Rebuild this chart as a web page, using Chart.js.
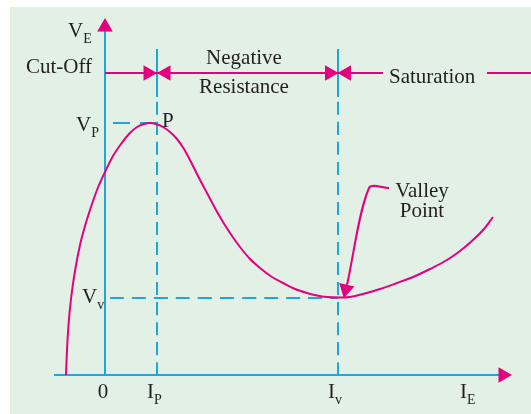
<!DOCTYPE html>
<html><head><meta charset="utf-8">
<script src="https://cdn.jsdelivr.net/npm/chart.js@4/dist/chart.umd.min.js"></script>
<style>html,body{margin:0;padding:0;background:#fff;}canvas{display:block;}</style>
</head><body>
<canvas id="c" width="531" height="414"></canvas>
<script>
// UJT characteristic: emitter current I_E (arbitrary units, 0 = origin) vs emitter voltage V_E
const emitterCurrent = [-3.9,-3.8,-3.65,-3.4,-3.0,-2.5,-2.0,-1.5,-0.8,0.0,0.8,1.6,2.4,3.2,3.9,4.5,5.1,5.8,6.5,7.2,7.9,8.6,9.3,10.2,11.5,12.5,13.5,14.5,15.5,16.7,17.8,19.0,20.2,21.2,22.2,23.5,24.5,26.0,27.5,29.2,30.8,32.5,34.2,35.5,36.8,37.9,38.8];
const emitterVoltage = [0,2.5,5.0,7.6,10.4,13.0,14.9,16.5,18.5,20.3,21.9,23.1,24.1,24.8,25.1,25.2,25.1,24.8,24.3,23.6,22.6,21.3,19.9,18.2,15.8,14.2,12.8,11.6,10.7,9.8,9.2,8.6,8.2,7.95,7.8,7.75,7.8,8.15,8.6,9.2,9.8,10.6,11.5,12.4,13.5,14.6,15.8];
const peakCurrent = 5.2;      // I_P
const valleyCurrent = 23.3;   // I_v
const peakVoltage = 25.2;     // V_P
const valleyVoltage = 7.7;    // V_v
const regionLevel = 30.2;     // level of the region arrows
const regionNames = ['Cut-Off', 'Negative', 'Resistance', 'Saturation'];
const xTickLabels = [['0',''],['I','P'],['I','v'],['I','E']];
const yTickLabels = [['V','E'],['V','P'],['V','v']];
const pointerLabel = ['Valley', 'Point'];

const PINK = '#e4007f', BLUE = '#1ea6e0', INK = '#231f20';
const X_MIN = -10.5, X_MAX = 42.6, Y_MIN = -3.9, Y_MAX = 37.5;
const topOfMarkers = 32.6, solidEnd = 27.8;

const curve = emitterCurrent.map((x, i) => ({x, y: emitterVoltage[i]}));
const line = (pts, color, dash, order) => ({
  data: pts.map(p => ({x: p[0], y: p[1]})), showLine: true, borderColor: color,
  borderWidth: 2, borderDash: dash || [], pointRadius: 0, fill: false, order: order || 5, clip: false
});
const arrows = (pts, rot, r, order) => ({
  data: pts.map(p => ({x: p[0], y: p[1]})), showLine: false, pointStyle: 'triangle',
  pointRadius: r, pointRotation: rot, backgroundColor: pts.map(p => p[2]), borderWidth: 0,
  pointBorderWidth: 0, order: order || 1, clip: false
});

const datasets = [
  Object.assign(line([], PINK, [], 2), {data: curve, cubicInterpolationMode: 'monotone'}),
  // axes
  line([[0,0],[0,34.8]], BLUE),
  line([[-5.1,0],[39.8,0]], BLUE),
  // marker verticals
  line([[peakCurrent, solidEnd],[peakCurrent, topOfMarkers]], BLUE),
  line([[peakCurrent, 0],[peakCurrent, solidEnd]], BLUE, [13,7]),
  line([[valleyCurrent, solidEnd],[valleyCurrent, topOfMarkers]], BLUE),
  line([[valleyCurrent, 0],[valleyCurrent, solidEnd]], BLUE, [13,7]),
  // level dashes
  line([[0.8, peakVoltage],[peakCurrent, peakVoltage]], BLUE, [17,10]),
  line([[0.5, valleyVoltage],[valleyCurrent, valleyVoltage]], BLUE, [14,8]),
  // region arrows line
  line([[0, regionLevel],[27.8, regionLevel]], PINK, [], 3),
  line([[38.2, regionLevel],[X_MAX, regionLevel]], PINK, [], 3),
  // valley pointer
  line([[28.4,18.7],[26.4,18.7],[24.2,9.0]], PINK, [], 3),
  // arrow heads
  arrows([[0,34.8,PINK]], 0, 9),
  arrows([[39.8,0,PINK]], 90, 9),
  arrows([[peakCurrent-0.9,regionLevel,PINK],[valleyCurrent-0.85,regionLevel,PINK]], 90, 9),
  arrows([[peakCurrent+0.9,regionLevel,PINK],[valleyCurrent+0.85,regionLevel,PINK]], 270, 9),
  arrows([[24.08,8.58,PINK]], 193, 9)
];

function drawSym(ctx, parts, px, py, align) {
  ctx.font = '21px "Liberation Serif", "Times New Roman", serif';
  const w1 = ctx.measureText(parts[0]).width;
  ctx.font = '14px "Liberation Serif", "Times New Roman", serif';
  const w2 = parts[1] ? ctx.measureText(parts[1]).width : 0;
  let left = px;
  if (align === 'center') left = px - (w1 + w2) / 2;
  if (align === 'right') left = px - (w1 + w2);
  ctx.textAlign = 'left';
  ctx.font = '21px "Liberation Serif", "Times New Roman", serif';
  ctx.fillText(parts[0], left, py);
  if (parts[1]) {
    ctx.font = '14px "Liberation Serif", "Times New Roman", serif';
    ctx.fillText(parts[1], left + w1, py + 6);
  }
}

const bgPlugin = {
  id: 'bg',
  beforeDraw(chart) {
    const ctx = chart.ctx;
    ctx.save();
    ctx.fillStyle = '#ffffff';
    ctx.fillRect(0, 0, chart.width, chart.height);
    ctx.fillStyle = '#e2f0e5';
    ctx.fillRect(10, 7, chart.width - 10, chart.height - 7);
    ctx.restore();
  }
};

const textPlugin = {
  id: 'texts',
  afterDatasetsDraw(chart) {
    const {ctx} = chart, sx = chart.scales.x, sy = chart.scales.y;
    const X = v => sx.getPixelForValue(v), Y = v => sy.getPixelForValue(v);
    ctx.save();
    ctx.fillStyle = INK;
    ctx.textBaseline = 'alphabetic';
    const tickY = Y(-2.3);
    drawSym(ctx, xTickLabels[0], X(0) - 2, tickY, 'center');
    drawSym(ctx, xTickLabels[1], X(peakCurrent) - 10, tickY, 'left');
    drawSym(ctx, xTickLabels[2], X(valleyCurrent) - 10, tickY, 'left');
    drawSym(ctx, xTickLabels[3], X(35.5), tickY, 'left');
    drawSym(ctx, yTickLabels[0], X(-3.7), Y(33.8), 'left');
    drawSym(ctx, yTickLabels[1], X(-2.9), Y(peakVoltage) + 8, 'left');
    drawSym(ctx, yTickLabels[2], X(-2.3), Y(valleyVoltage) + 5, 'left');
    drawSym(ctx, ['P',''], X(peakCurrent) + 5, Y(peakVoltage) + 4, 'left');
    drawSym(ctx, [regionNames[0],''], X(-7.9), Y(regionLevel), 'left');
    drawSym(ctx, [regionNames[1],''], X(13.9), Y(31.1), 'center');
    drawSym(ctx, [regionNames[2],''], X(13.9), Y(28.2), 'center');
    drawSym(ctx, [regionNames[3],''], X(28.4), Y(29.2), 'left');
    drawSym(ctx, [pointerLabel[0],''], X(31.7), Y(17.8), 'center');
    drawSym(ctx, [pointerLabel[1],''], X(31.7), Y(15.8), 'center');
    ctx.restore();
  }
};

new Chart(document.getElementById('c'), {
  type: 'scatter',
  data: {datasets},
  options: {
    responsive: false, animation: false, devicePixelRatio: 1,
    layout: {padding: 0, autoPadding: false},
    plugins: {legend: {display: false}, tooltip: {enabled: false}},
    scales: {
      x: {type: 'linear', min: X_MIN, max: X_MAX, display: false},
      y: {type: 'linear', min: Y_MIN, max: Y_MAX, display: false}
    },
    elements: {line: {tension: 0.3}}
  },
  plugins: [bgPlugin, textPlugin]
});
</script>
</body></html>
